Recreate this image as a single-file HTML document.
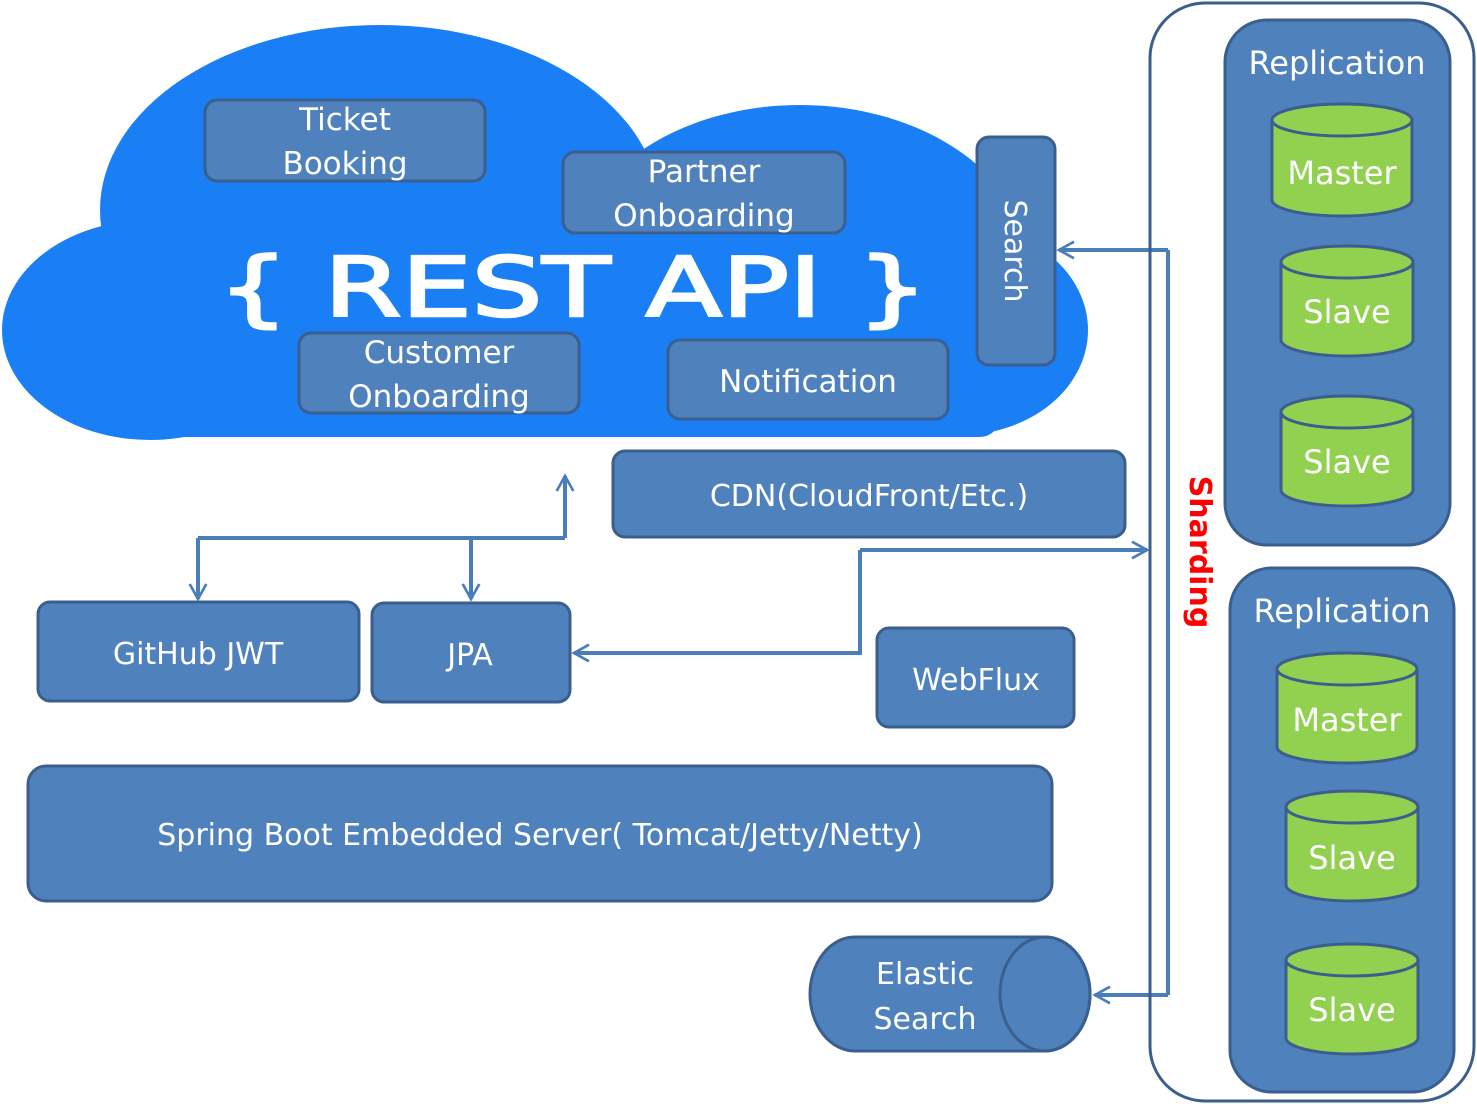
<!DOCTYPE html>
<html><head><meta charset="utf-8"><style>
body{margin:0;background:#fff;width:1477px;height:1104px;overflow:hidden}
svg{display:block}
text{font-family:"DejaVu Sans","Liberation Sans",sans-serif;fill:#fff}
</style></head><body>
<svg width="1477" height="1104" viewBox="0 0 1477 1104">
<defs>
<marker id="a" viewBox="0 0 12 12" refX="10" refY="6" markerWidth="20" markerHeight="22" markerUnits="userSpaceOnUse" orient="auto"><path d="M1,1 L10,6 L1,11" fill="none" stroke="#4a7ebb" stroke-width="1.6"/></marker>
</defs>
<g fill="#1a7ff5">
<ellipse cx="380" cy="210" rx="280" ry="185"/>
<ellipse cx="800" cy="270" rx="230" ry="165"/>
<ellipse cx="150" cy="330" rx="148" ry="110"/>
<ellipse cx="960" cy="330" rx="128" ry="105"/>
<rect x="120" y="250" width="880" height="187" rx="20"/>
</g>
<g stroke="#3a5f8f" stroke-width="3" fill="#4f81bd">
<rect x="205" y="100" width="280" height="81" rx="12"/>
<rect x="563" y="152" width="282" height="81" rx="12"/>
<rect x="299" y="333" width="280" height="80" rx="12"/>
<rect x="668" y="340" width="280" height="79" rx="12"/>
<rect x="977" y="137" width="78" height="228" rx="12"/>
<rect x="613" y="451" width="512" height="86" rx="12"/>
<rect x="38" y="602" width="321" height="99" rx="12"/>
<rect x="372" y="603" width="198" height="99" rx="12"/>
<rect x="877" y="628" width="197" height="99" rx="12"/>
<rect x="28" y="766" width="1024" height="135" rx="18"/>
<path d="M855,937 L1045,937 A45,57 0 0 1 1045,1051 L855,1051 A45,57 0 0 1 855,937 Z"/>
<ellipse cx="1045" cy="994" rx="45" ry="57"/>
</g>
<text x="345" y="130" font-size="31" text-anchor="middle">Ticket</text>
<text x="345" y="174" font-size="31" text-anchor="middle">Booking</text>
<text x="704" y="182" font-size="31" text-anchor="middle">Partner</text>
<text x="704" y="226" font-size="31" text-anchor="middle">Onboarding</text>
<text x="439" y="363" font-size="31" text-anchor="middle">Customer</text>
<text x="439" y="407" font-size="31" text-anchor="middle">Onboarding</text>
<text x="808" y="392" font-size="31" text-anchor="middle">Notification</text>
<text x="218" y="316" font-size="82" textLength="710" lengthAdjust="spacingAndGlyphs" font-family="Liberation Sans" stroke="#fff" stroke-width="2.5">{ REST API }</text>
<text transform="translate(1005,251) rotate(90)" font-size="30" text-anchor="middle">Search</text>
<text x="869" y="506" font-size="30" text-anchor="middle">CDN(CloudFront/Etc.)</text>
<text x="198" y="664" font-size="30" text-anchor="middle">GitHub JWT</text>
<text x="470" y="665" font-size="30" text-anchor="middle">JPA</text>
<text x="976" y="690" font-size="30" text-anchor="middle">WebFlux</text>
<text x="540" y="845" font-size="30" text-anchor="middle">Spring Boot Embedded Server( Tomcat/Jetty/Netty)</text>
<text x="925" y="984" font-size="30" text-anchor="middle">Elastic</text>
<text x="925" y="1029" font-size="30" text-anchor="middle">Search</text>
<g fill="none" stroke="#4a7ebb" stroke-width="4">
<path d="M565,538 L565,476" marker-end="url(#a)"/>
<path d="M198,538 L565,538"/>
<path d="M198,538 L198,599" marker-end="url(#a)"/>
<path d="M471,538 L471,599" marker-end="url(#a)"/>
<path d="M860,550 L860,653 L574,653" marker-end="url(#a)"/>
<path d="M860,550 L1147,550" marker-end="url(#a)"/>
<path d="M1168,250 L1168,995"/>
<path d="M1168,250 L1059,250" marker-end="url(#a)"/>
<path d="M1168,995 L1095,995" marker-end="url(#a)"/>
</g>
<rect x="1150" y="3" width="324" height="1098" rx="55" fill="none" stroke="#3a5f8f" stroke-width="3"/>
<text transform="translate(1190,552) rotate(90)" font-size="30" font-weight="bold" text-anchor="middle" style="fill:#ff0000" font-family="Liberation Sans">Sharding</text>
<g stroke="#3a5f8f" stroke-width="3" fill="#4f81bd">
<rect x="1225" y="20" width="225" height="525" rx="42"/>
<rect x="1230" y="568" width="224" height="524" rx="42"/>
</g>
<text x="1337" y="74" font-size="32" text-anchor="middle">Replication</text>
<text x="1342" y="622" font-size="32" text-anchor="middle">Replication</text>
<g stroke="#3a5f8f" stroke-width="3" fill="#92d050">
<path d="M1272,120 v80 a70,16 0 0 0 140,0 v-80"/><ellipse cx="1342" cy="120" rx="70" ry="16"/>
<path d="M1281,262 v78 a66,16 0 0 0 132,0 v-78"/><ellipse cx="1347" cy="262" rx="66" ry="16"/>
<path d="M1281,412 v78 a66,16 0 0 0 132,0 v-78"/><ellipse cx="1347" cy="412" rx="66" ry="16"/>
<path d="M1277,669 v78 a70,16 0 0 0 140,0 v-78"/><ellipse cx="1347" cy="669" rx="70" ry="16"/>
<path d="M1286,807 v78 a66,16 0 0 0 132,0 v-78"/><ellipse cx="1352" cy="807" rx="66" ry="16"/>
<path d="M1286,960 v78 a66,16 0 0 0 132,0 v-78"/><ellipse cx="1352" cy="960" rx="66" ry="16"/>
</g>
<text x="1342" y="184" font-size="32" text-anchor="middle">Master</text>
<text x="1347" y="323" font-size="32" text-anchor="middle">Slave</text>
<text x="1347" y="473" font-size="32" text-anchor="middle">Slave</text>
<text x="1347" y="731" font-size="32" text-anchor="middle">Master</text>
<text x="1352" y="869" font-size="32" text-anchor="middle">Slave</text>
<text x="1352" y="1021" font-size="32" text-anchor="middle">Slave</text>
</svg>
</body></html>
